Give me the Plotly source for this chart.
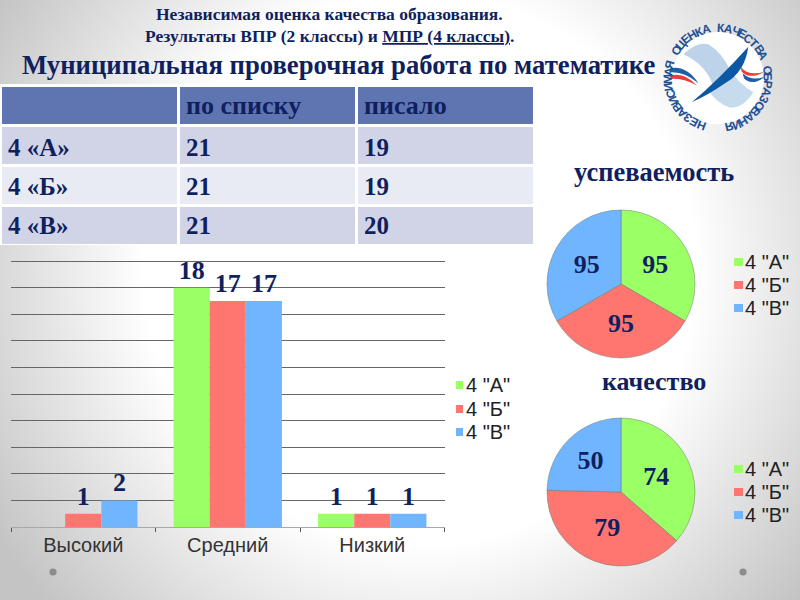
import base64
import math

import plotly.graph_objects as go

W = 800
H = 600

classes = ['4 "А"', '4 "Б"', '4 "В"']
levels = ["Высокий", "Средний", "Низкий"]
level_a = [None, 18, 1]
level_b = [1, 17, 1]
level_c = [2, 17, 1]

progress = [95, 95, 95]
quality = [74, 79, 50]

table_head = ["", "по списку", "писало"]
table_names = ["4 «А»", "4 «Б»", "4 «В»"]
table_listed = [21, 21, 21]
table_wrote = [19, 19, 20]

colors = ["#9bff66", "#ff7570", "#70b5ff"]
NAVY = "#101f5e"
SERIF = "Liberation Serif"
SANS = "Liberation Sans"
logo_text = "НЕЗАВИСИМАЯ ОЦЕНКА КАЧЕСТВА ОБРАЗОВАНИЯ"


def px(x, y):
    # pixel position on the page -> paper coordinates
    return x / W, 1 - y / H


def domain(x0, x1, y0, y1):
    return dict(x=[x0 / W, x1 / W], y=[1 - y1 / H, 1 - y0 / H])


def label(text, x, y, size, color=NAVY, family=SERIF, bold=True, angle=0, anchor="center"):
    if bold:
        text = "<b>" + text + "</b>"
    px_x, px_y = px(x, y)
    return dict(text=text, x=px_x, y=px_y, xref="paper", yref="paper",
                xanchor=anchor, yanchor="middle", showarrow=False, textangle=angle,
                font=dict(family=family, size=size, color=color))


def logo_path(points):
    # points come from the logo zoom: "M"/"L"/"Q" commands in crop coordinates
    out = []
    for cmd, coords in points:
        pairs = []
        for zx, zy in coords:
            x, y = px(650 + zx / 3, 15 + zy / 3)
            pairs.append(f"{x:.5f},{y:.5f}")
        out.append(cmd + " ".join(pairs))
    return " ".join(out) + " Z"


def logo_shape(points, color):
    return dict(type="path", xref="paper", yref="paper", path=logo_path(points),
                fillcolor=color, line=dict(width=0))


def dot(x, y, r, color):
    x0, y0 = px(x - r, y - r)
    x1, y1 = px(x + r, y + r)
    return dict(type="circle", xref="paper", yref="paper", x0=x0, x1=x1, y0=y0, y1=y1,
                fillcolor=color, line=dict(width=0))


def swatch(x0, x1, yc, color):
    ax, ay = px(x0, yc - 4)
    bx, by = px(x1, yc + 4)
    return dict(type="rect", xref="paper", yref="paper", x0=ax, x1=bx, y0=ay, y1=by,
                fillcolor=color, line=dict(width=0))


fig = go.Figure()

# grouped bars
for name, vals, col in zip(classes, [level_a, level_b, level_c], colors):
    fig.add_trace(go.Bar(x=levels, y=vals, name=name, marker_color=col, marker_line_width=0,
                         text=vals, texttemplate="<b>%{y}</b>", textposition="outside",
                         cliponaxis=False, showlegend=False,
                         textfont=dict(family=SERIF, size=26, color=NAVY)))

# table fills only: go.Table grows its rows with the font, so the words go on as annotations
fig.add_trace(go.Table(
    domain=domain(0, 534, 85, 245),
    columnwidth=[178, 178, 178],
    header=dict(values=["", "", ""], height=40, fill_color="#5f75b2",
                line=dict(color="white", width=3), font=dict(size=10)),
    cells=dict(values=[["", "", ""]] * 3, height=40,
               fill_color=[["#d0d4e6", "#e9ebf4", "#d0d4e6"]] * 3,
               line=dict(color="white", width=3), font=dict(size=10)),
))

# two pies
for vals, box in [(progress, (547, 695, 210, 358)), (quality, (547, 695, 418, 566))]:
    fig.add_trace(go.Pie(labels=classes, values=vals, sort=False, direction="clockwise",
                         rotation=0, domain=domain(*box), showlegend=False,
                         marker=dict(colors=colors, line=dict(color="#6a7a6a", width=0.5)),
                         texttemplate="<b>%{value}</b>", textposition="inside",
                         insidetextorientation="horizontal",
                         textfont=dict(family=SERIF, size=26, color=NAVY)))

annotations = [
    label("Независимая оценка качества образования.", 329, 14, 17.5),
    label("Результаты ВПР (2 классы) и <u>МПР (4 классы)</u>.", 329, 36, 17.5),
    label("Муниципальная проверочная работа по математике", 339, 65, 26.7),
    label("успеваемость", 654, 172, 26.5),
    label("качество", 654, 381, 26),
]

# table words
for col_x, head, col_vals in [(6, table_head[0], table_names),
                              (184, table_head[1], table_listed),
                              (362, table_head[2], table_wrote)]:
    if head:
        annotations.append(label(head, col_x, 106, 26, anchor="left"))
    for row_y, val in zip([147, 186, 225], col_vals):
        annotations.append(label(str(val), col_x, row_y, 25, anchor="left"))

shapes = [
    dot(53, 572, 3.6, "#8c8c8c"),
    dot(743, 572, 3.6, "#8c8c8c"),
    dot(718, 78, 46, "#ffffff"),
    # light ribbons
    logo_shape([("M", [(100, 118)]), ("Q", [(140, 78), (175, 88)]), ("Q", [(215, 112), (240, 165)]),
                ("L", [(190, 215)]), ("Q", [(170, 150), (100, 118)])], "#bcd3ea"),
    logo_shape([("M", [(175, 225)]), ("L", [(240, 165)]), ("Q", [(265, 205), (310, 232)]),
                ("Q", [(280, 280), (240, 278)]), ("Q", [(200, 265), (175, 225)])], "#c6dbee"),
    # stripes left and right of the feather
    logo_shape([("M", [(60, 160)]), ("Q", [(110, 150), (145, 205)]), ("Q", [(105, 170), (62, 172)])], "#1f5ea8"),
    logo_shape([("M", [(60, 182)]), ("Q", [(105, 170), (140, 212)]), ("Q", [(100, 188), (62, 192)])], "#e5423d"),
    logo_shape([("M", [(272, 155)]), ("Q", [(295, 185), (345, 170)]), ("Q", [(300, 195), (275, 170)])], "#e5423d"),
    logo_shape([("M", [(278, 175)]), ("Q", [(305, 200), (345, 185)]), ("Q", [(305, 215), (282, 190)])], "#1f5ea8"),
    # feather
    logo_shape([("M", [(125, 262)]), ("Q", [(205, 195), (295, 95)]), ("Q", [(285, 170), (225, 205)]),
                ("Q", [(175, 240), (125, 262)])], "#0d58a4"),
]

# logo letters run around a circle, clockwise from the bottom left
for i, ch in enumerate(logo_text):
    ang = 200 + i * 327 / (len(logo_text) - 1)
    lx = 718 + 50 * math.sin(math.radians(ang))
    ly = 78 - 50 * math.cos(math.radians(ang))
    tilt = ang if ang <= 360 else ang - 360
    annotations.append(label(ch, lx, ly, 12, color="#1d4f95", family=SANS, angle=tilt))

# legends next to each chart: small square hard against the text
for sw0, sw1, tx, rows in [(456, 463, 463.5, [385, 409, 432]),
                           (734, 743, 743, [262, 285, 308]),
                           (734, 743, 743, [469, 492, 515])]:
    for name, col, yc in zip(classes, colors, rows):
        shapes.append(swatch(sw0, sw1, yc, col))
        annotations.append(label(name, tx, yc, 20, color="#222222", family=SANS, bold=False, anchor="left"))

# soft grey vignette behind everything
background = """<svg xmlns="http://www.w3.org/2000/svg" width="800" height="600">
<defs><radialGradient id="g" gradientUnits="userSpaceOnUse" cx="420" cy="270" r="500">
<stop offset="0" stop-color="#ffffff"/><stop offset="0.55" stop-color="#ffffff"/>
<stop offset="1" stop-color="#c4c4c4"/></radialGradient></defs>
<rect width="800" height="600" fill="url(#g)"/></svg>"""
bg_uri = "data:image/svg+xml;base64," + base64.b64encode(background.encode()).decode()

fig.update_layout(
    width=W,
    height=H,
    margin=dict(l=0, r=0, t=0, b=0),
    paper_bgcolor="white",
    plot_bgcolor="rgba(0,0,0,0)",
    barmode="group",
    bargap=0.25,
    bargroupgap=0,
    annotations=annotations,
    shapes=shapes,
    images=[dict(source=bg_uri, xref="paper", yref="paper", x=0, y=1, sizex=1, sizey=1,
                 xanchor="left", yanchor="top", sizing="stretch", layer="below")],
    xaxis=dict(domain=[11 / W, 444.5 / W], type="category", tickson="boundaries", ticks="outside",
               ticklen=4, tickcolor="#555555", showline=True, linecolor="#a8a8a8",
               showgrid=False, tickfont=dict(family=SANS, size=20, color="#333333")),
    # 20.1 so the top grid line at 20 is still drawn
    yaxis=dict(domain=[1 - 527 / H, 1 - 259.7 / H], range=[0, 20.1], dtick=2, showticklabels=False,
               ticks="", zeroline=False, showgrid=True, gridcolor="#666666", gridwidth=1.4),
)

fig.write_html("out.html", config={"displayModeBar": False},
               post_script="document.body.style.margin='0';")
